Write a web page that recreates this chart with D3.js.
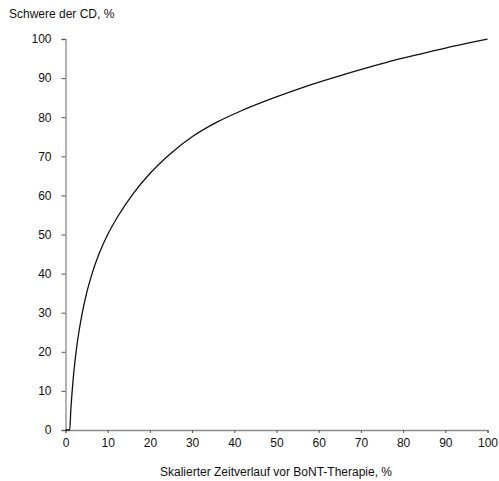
<!DOCTYPE html>
<html>
<head>
<meta charset="utf-8">
<script src="https://cdn.jsdelivr.net/npm/d3@7"></script>
<style>
  body { margin: 0; background: #fff; }
  text { font-family: "Liberation Sans", Arial, sans-serif; }
</style>
</head>
<body>
<div id="chart"></div>
<script>
// values
var timeX = [0, 1, 1.25, 1.6, 2, 2.65, 3.3, 4, 5, 6.3, 8, 10, 12.5, 16, 20, 25, 30, 36, 42, 49, 57, 65, 72, 78, 85, 92, 100];
var severity = [0, 0, 4.9, 10.2, 15.1, 21.2, 25.9, 30.1, 35, 40, 45.2, 50, 54.8, 60.4, 65.6, 70.8, 75, 78.8, 81.8, 84.8, 87.9, 90.6, 92.8, 94.6, 96.4, 98.2, 100];
var xTicks = [0, 10, 20, 30, 40, 50, 60, 70, 80, 90, 100];
var yTicks = [0, 10, 20, 30, 40, 50, 60, 70, 80, 90, 100];

var width = 499, height = 481;

var svg = d3.select("#chart")
  .append("svg")
    .attr("width", width)
    .attr("height", height);

var x = d3.scaleLinear().domain([0, 100]).range([65.5, 487.5]);
var y = d3.scaleLinear().domain([0, 100]).range([430, 39]);

// Y axis
var yAxis = svg.append("g")
  .attr("transform", "translate(65.5,0)")
  .call(d3.axisLeft(y).tickValues(yTicks).tickSize(4).tickPadding(10));

// X axis
var xAxis = svg.append("g")
  .attr("transform", "translate(0,430)")
  .call(d3.axisBottom(x).tickValues(xTicks).tickSize(3).tickPadding(5));

[yAxis, xAxis].forEach(function(a) {
  a.select(".domain").attr("stroke", "#8a8a8a").attr("stroke-width", 1.3);
  a.selectAll(".tick line").attr("stroke", "#555");
  a.selectAll("text")
    .attr("font-size", "12px")
    .attr("font-family", "Liberation Sans, Arial, sans-serif")
    .attr("fill", "#111");
});

// curve
var pts = timeX.map(function(d, i) { return [d, severity[i]]; });
var line = d3.line()
  .x(function(d) { return x(d[0]); })
  .y(function(d) { return y(d[1]); })
  .curve(d3.curveMonotoneX);

svg.append("path")
  .datum(pts)
  .attr("fill", "none")
  .attr("stroke", "#111")
  .attr("stroke-width", 1.3)
  .attr("d", line);

// titles
svg.append("text")
  .attr("x", 9)
  .attr("y", 18)
  .attr("font-size", "12px")
  .attr("fill", "#111")
  .text("Schwere der CD, %");

svg.append("text")
  .attr("x", 276)
  .attr("y", 476)
  .attr("text-anchor", "middle")
  .attr("font-size", "12px")
  .attr("fill", "#111")
  .text("Skalierter Zeitverlauf vor BoNT-Therapie, %");
</script>
</body>
</html>
